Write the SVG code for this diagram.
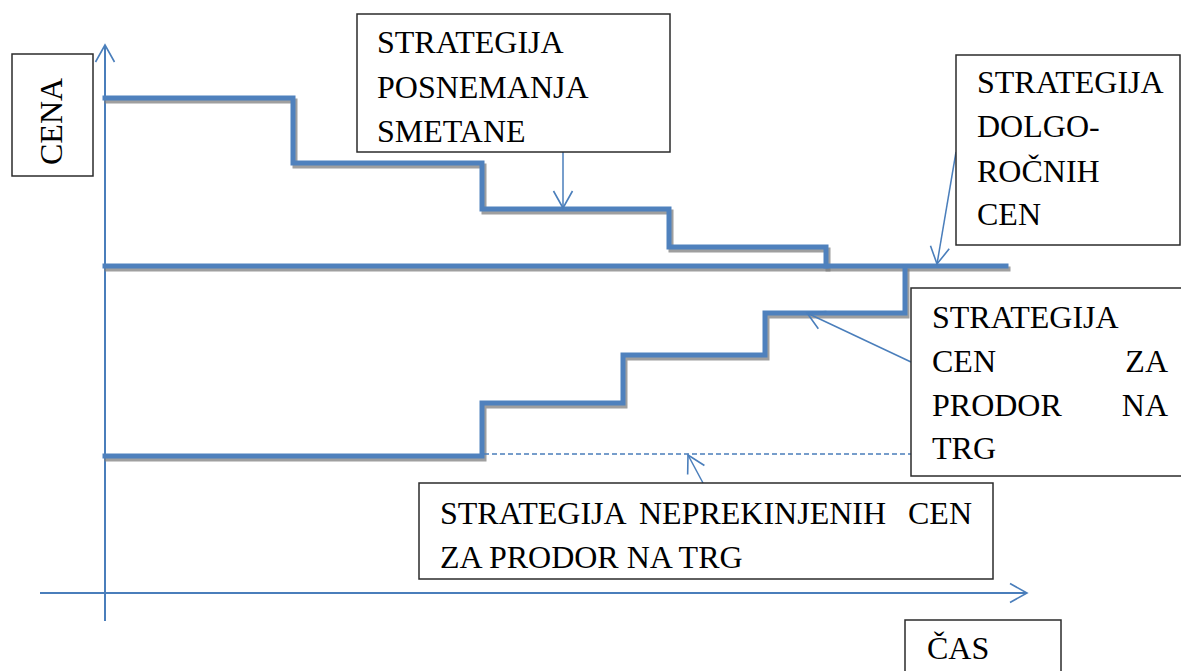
<svg xmlns="http://www.w3.org/2000/svg" width="1181" height="671" viewBox="0 0 1181 671">
  <style>
    .box { fill: #ffffff; stroke: #2b2b2b; stroke-width: 1.5; }
    .lbl { font-family: 'Liberation Serif', 'Times New Roman', serif; font-size: 32px; fill: #000000; }
    .axis { fill: none; stroke: #4A7EBB; stroke-width: 2; }
    .conn { fill: none; stroke: #4A7EBB; stroke-width: 1.5; }
    .dash { fill: none; stroke: #4A7EBB; stroke-width: 1.5; stroke-dasharray: 5 3; }
    .price { fill: none; stroke: #4F81BD; stroke-width: 5; stroke-linejoin: miter; stroke-linecap: square; }
    .shadow { fill: none; stroke: #7f7f7f; stroke-opacity: 0.75; stroke-width: 5; stroke-linecap: square; }
  </style>
  <defs>
    <marker id="open" viewBox="-20 -12 22 24" refX="0" refY="0" markerWidth="22" markerHeight="24" markerUnits="userSpaceOnUse" orient="auto" overflow="visible">
      <path d="M-17,-9.5 L0,0 L-17,9.5" fill="none" stroke="#4A7EBB" stroke-width="1.6"/>
    </marker>
    <filter id="soft" x="-5%" y="-5%" width="110%" height="110%">
      <feGaussianBlur stdDeviation="0.7"/>
    </filter>
  </defs>
  <rect width="1181" height="671" fill="#ffffff"/>

  <!-- coordinate axes -->
  <g id="axes">
    <line class="axis" x1="105" y1="621" x2="105" y2="45" marker-end="url(#open)"/>
    <line class="axis" x1="40" y1="593" x2="1027" y2="593" marker-end="url(#open)"/>
  </g>

  <!-- price paths over time, each with a soft drop shadow -->
  <g id="price-lines">
    <g transform="translate(2,3)" filter="url(#soft)">
      <path class="shadow" d="M105,98 H293 V163 H482 V209 H669 V247 H826 V266"/>
      <path class="shadow" d="M105,266 H1006"/>
      <path class="shadow" d="M105,456 H482 V403 H623 V355 H765 V313 H905 V268"/>
    </g>
    <path class="price" d="M105,98 H293 V163 H482 V209 H669 V247 H826 V266"/>
    <path class="price" d="M105,266 H1006"/>
    <path class="price" d="M105,456 H482 V403 H623 V355 H765 V313 H905 V268"/>
    <line class="dash" x1="484" y1="454" x2="911" y2="454"/>
  </g>

  <!-- callout connectors -->
  <g id="connectors">
    <line class="conn" x1="563" y1="152" x2="563" y2="208" marker-end="url(#open)"/>
    <line class="conn" x1="956" y1="152" x2="937" y2="264" marker-end="url(#open)"/>
    <line class="conn" x1="911" y1="362" x2="807" y2="313" marker-end="url(#open)"/>
    <line class="conn" x1="703" y1="483" x2="688" y2="455" marker-end="url(#open)"/>
  </g>

  <g id="cena">
    <rect class="box" x="12" y="54" width="81" height="122"/>
    <text class="lbl" transform="translate(62,165) rotate(-90)">CENA</text>
  </g>

  <g id="posnemanje-smetane">
    <rect class="box" x="357" y="14" width="313" height="138"/>
    <text class="lbl" x="377" y="53">STRATEGIJA</text>
    <text class="lbl" x="377" y="98">POSNEMANJA</text>
    <text class="lbl" x="377" y="142">SMETANE</text>
  </g>

  <g id="dolgorocne-cene">
    <rect class="box" x="956" y="55" width="224" height="190"/>
    <text class="lbl" x="977" y="93">STRATEGIJA</text>
    <text class="lbl" x="977" y="137">DOLGO-</text>
    <text class="lbl" x="977" y="182">ROČNIH</text>
    <text class="lbl" x="977" y="225">CEN</text>
  </g>

  <g id="cene-za-prodor">
    <rect class="box" x="911" y="288" width="280" height="188"/>
    <text class="lbl" x="932" y="328">STRATEGIJA</text>
    <text class="lbl" x="932" y="372">CEN</text>
    <text class="lbl" x="1168" y="372" text-anchor="end">ZA</text>
    <text class="lbl" x="932" y="416">PRODOR</text>
    <text class="lbl" x="1168" y="416" text-anchor="end">NA</text>
    <text class="lbl" x="932" y="459">TRG</text>
  </g>

  <g id="neprekinjene-cene">
    <rect class="box" x="419" y="483" width="574" height="96"/>
    <text class="lbl" x="440" y="524">STRATEGIJA</text>
    <text class="lbl" x="639" y="524">NEPREKINJENIH</text>
    <text class="lbl" x="972" y="524" text-anchor="end">CEN</text>
    <text class="lbl" x="440" y="568">ZA PRODOR NA TRG</text>
  </g>

  <g id="cas">
    <rect class="box" x="905" y="620" width="156" height="60"/>
    <text class="lbl" x="927" y="659">ČAS</text>
  </g>
</svg>
